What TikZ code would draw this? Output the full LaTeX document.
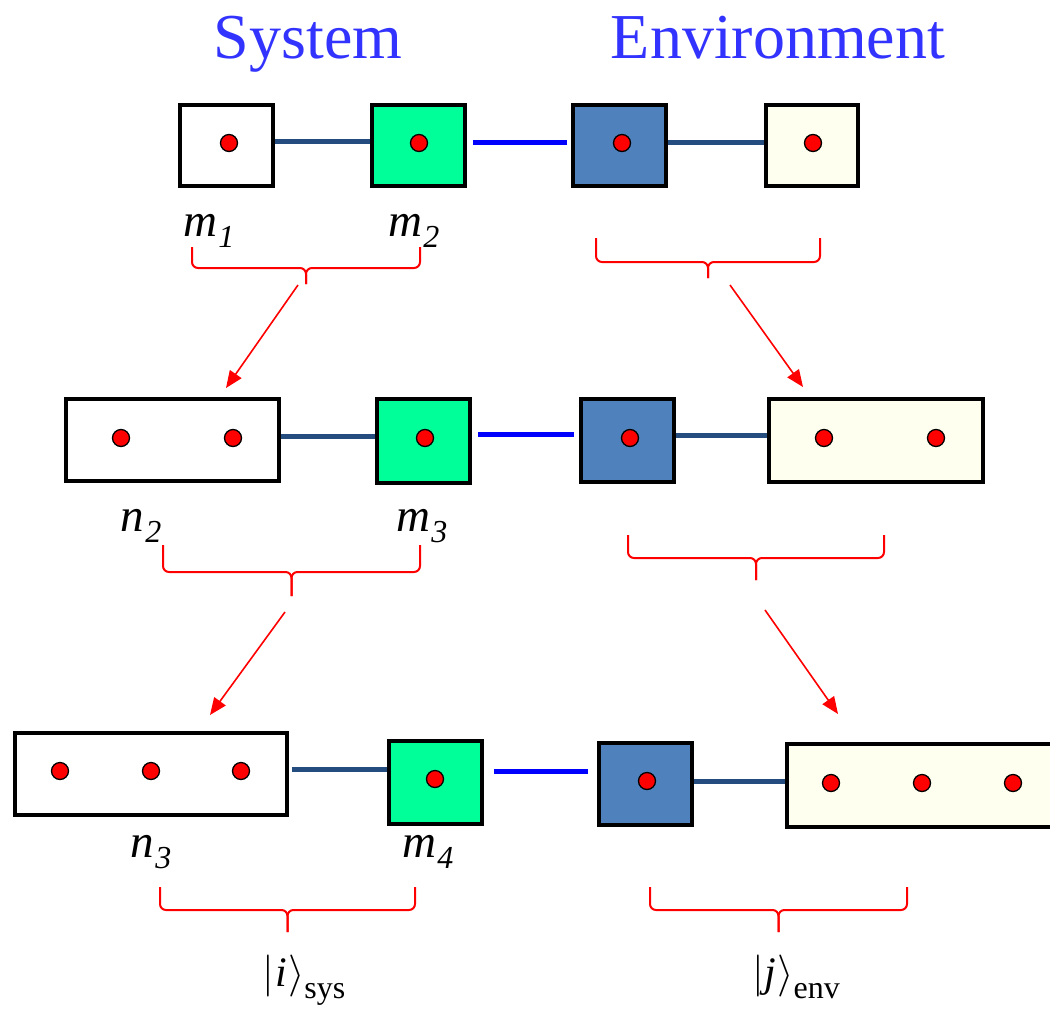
\RequirePackage{fix-cm}
\documentclass[tikz,border=0pt]{standalone}
\usepackage{fontspec}
\setmainfont{Liberation Serif}
\usetikzlibrary{arrows.meta,calc}
\definecolor{titleblue}{RGB}{51,51,255}
\definecolor{boxgreen}{RGB}{0,255,153}
\definecolor{boxblue}{RGB}{79,129,189}
\definecolor{boxcream}{RGB}{255,255,240}
\definecolor{linkdark}{RGB}{37,76,126}
\definecolor{linkblue}{RGB}{0,0,255}
\newcommand\mlab[2]{{\fontsize{47}{47}\selectfont\itshape #1}\kern1pt\raisebox{-11pt}{\fontsize{32}{32}\selectfont\itshape #2}}
\newcommand\kets[2]{{\fontsize{42}{42}\selectfont$|$\kern1pt\itshape #1\kern1pt$\rangle$}\raisebox{-12pt}{\fontsize{32}{32}\selectfont #2}}
\newcommand\bracepath[5]{%
  \draw[brace] (#1,#3) -- (#1,#4) -- ({(#1+#2)/2},#4) -- ({(#1+#2)/2},#5);
  \draw[brace] (#2,#3) -- (#2,#4) -- ({(#1+#2)/2},#4) -- ({(#1+#2)/2},#5);}
\tikzset{
  cell/.style args={#1x#2}{draw=black, line width=4pt, inner sep=0pt, minimum width=#1pt, minimum height=#2pt},
  dot/.style={circle, draw=black, line width=1.3pt, fill=red, inner sep=0pt, minimum size=17pt},
  dlink/.style={draw=linkdark, line width=5pt},
  blink/.style={draw=linkblue, line width=5pt},
  brace/.style={draw=red, line width=2pt, rounded corners=6pt},
  arr/.style={draw=red, line width=1.6pt, -{Triangle[length=17pt,width=14pt]}},
  title/.style={text=titleblue, font=\fontsize{64}{64}\selectfont, anchor=base, inner sep=0pt},
  lab/.style={anchor=base, inner sep=0pt},
}
\begin{document}
\begin{tikzpicture}[x=1pt,y=-1pt]
\useasboundingbox (0,0) rectangle (1050,1010);
% titles
\node[title] (tsys) at (308,58) {System};
\node[title] (tenv) at (778,58) {Environment};
% row 1
\node[cell=93x81, fill=white] (A1) at (226.5,145.5) {};
\node[cell=93x81, fill=boxgreen] (B1) at (418.5,145.5) {};
\node[cell=93x81, fill=boxblue] (C1) at (619.5,145.5) {};
\node[cell=92x81, fill=boxcream] (D1) at (812,145.5) {};
\node[dot] (a1) at (229,143) {};
\node[dot] (b1) at (419,143) {};
\node[dot] (c1) at (622,143) {};
\node[dot] (d1) at (813,143) {};
\draw[dlink] (A1.east |- 0,141) -- (B1.west |- 0,141);
\draw[blink] ([xshift=6pt]B1.east |- 0,142) -- ([xshift=-4pt]C1.west |- 0,142);
\draw[dlink] (C1.east |- 0,142) -- (D1.west |- 0,142);
\node[lab] (m1) at (209,236) {\mlab{m}{1}};
\node[lab] (m2) at (414,236) {\mlab{m}{2}};
\bracepath{192}{420}{247}{268}{284}
\bracepath{596}{820}{238}{262}{278}
\coordinate (s1) at (298,285);
\coordinate (s2) at (730,285);
% row 2
\node[cell=213x82, fill=white] (A2) at (172.5,440) {};
\node[cell=93x84, fill=boxgreen] (B2) at (423.5,441) {};
\node[cell=93x83, fill=boxblue] (C2) at (627.5,440.5) {};
\node[cell=214x83, fill=boxcream] (D2) at (876,440.5) {};
\node[dot] (a2a) at (121,438) {};
\node[dot] (a2b) at (233,438) {};
\node[dot] (b2) at (425,438) {};
\node[dot] (c2) at (630,438) {};
\node[dot] (d2a) at (824,438) {};
\node[dot] (d2b) at (936,438) {};
\draw[dlink] (A2.east |- 0,436) -- (B2.west |- 0,436);
\draw[blink] ([xshift=6pt]B2.east |- 0,434) -- ([xshift=-5pt]C2.west |- 0,434);
\draw[dlink] (C2.east |- 0,435) -- (D2.west |- 0,435);
\coordinate (e1) at (226,388);
\coordinate (e2) at (803,387);
\draw[arr] (s1) -- (e1);
\draw[arr] (s2) -- (e2);
\node[lab] (n2) at (141,531) {\mlab{n}{2}};
\node[lab] (m3) at (422,531) {\mlab{m}{3}};
\bracepath{163}{420}{545}{572}{596}
\bracepath{628}{884}{535}{558}{580}
\coordinate (s3) at (285,612);
\coordinate (s4) at (765,610);
% row 3
\node[cell=272x82, fill=white] (A3) at (151,774) {};
\node[cell=93x83, fill=boxgreen] (B3) at (435.5,782.5) {};
\node[cell=93x82, fill=boxblue] (C3) at (645.5,784) {};
\node[cell=271x83, fill=boxcream] (D3) at (922.5,785.5) {};
\node[dot] (a3a) at (60,771) {};
\node[dot] (a3b) at (151,771) {};
\node[dot] (a3c) at (241,771) {};
\node[dot] (b3) at (435,779) {};
\node[dot] (c3) at (647,781) {};
\node[dot] (d3a) at (831,783) {};
\node[dot] (d3b) at (922,783) {};
\node[dot] (d3c) at (1013,783) {};
\draw[dlink] ([xshift=3pt]A3.east |- 0,769) -- (B3.west |- 0,769);
\draw[blink] ([xshift=10pt]B3.east |- 0,771) -- ([xshift=-9pt]C3.west |- 0,771);
\draw[dlink] (C3.east |- 0,781) -- (D3.west |- 0,781);
\coordinate (e3) at (210,715);
\coordinate (e4) at (838,714);
\draw[arr] (s3) -- (e3);
\draw[arr] (s4) -- (e4);
\node[lab] (n3) at (151,857) {\mlab{n}{3}};
\node[lab] (m4) at (428,857) {\mlab{m}{4}};
\bracepath{160}{415}{887}{910}{932}
\bracepath{650}{907}{887}{910}{932}
\node[lab] (ksys) at (304,986) {\kets{i}{sys}};
\node[lab] (kenv) at (796,986) {\kets{j}{env}};
\end{tikzpicture}
\end{document}
